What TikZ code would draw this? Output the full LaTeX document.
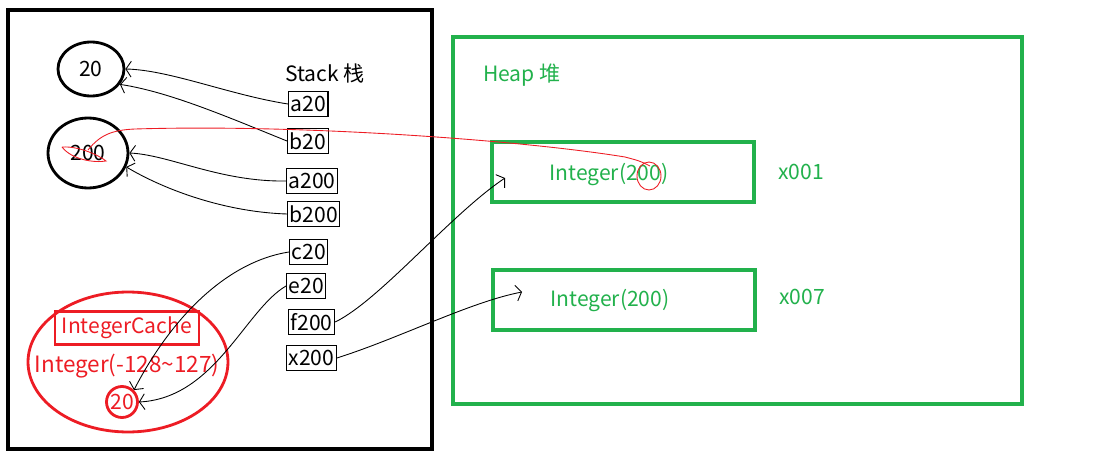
\documentclass[tikz,border=0pt]{standalone}
\usepackage{fontspec}
\setmainfont{Noto Sans CJK SC}
\usetikzlibrary{shapes.geometric, arrows.meta, positioning}

\definecolor{paintgreen}{RGB}{34,177,76}
\definecolor{paintred}{RGB}{237,28,36}

\begin{document}
\begin{tikzpicture}[x=0.02cm, y=-0.02cm, >={Straight Barb[length=3pt,width=9pt]},
    txt/.style={font=\fontsize{12}{14}\selectfont},
    slot/.style={txt, draw, line width=0.6pt, inner sep=1.2pt, minimum height=0.5cm, anchor=west},
    value/.style={txt, draw, ellipse, line width=1.6pt, inner sep=0pt},
    wire/.style={line width=0.5pt, ->},
    redpen/.style={paintred, line width=0.5pt},
    heaptxt/.style={txt, text=paintgreen},
    obj/.style={draw=paintgreen, line width=1.8pt, minimum width=5.24cm, minimum height=1.2cm}]
  \useasboundingbox (0,0) rectangle (1100,463);

  % Stack
  \draw[line width=2.3pt] (8,10) rectangle (432,449);
  \node[txt] (stacklbl) at (325,73) {Stack 栈};
  \node[value, minimum width=1.32cm, minimum height=1.08cm] (n20) at (91,69) {20};
  \node[value, minimum width=1.6cm, minimum height=1.4cm] (n200) at (88,153) {200};

  \node[slot] (a20) at (288,104) {a20};
  \node[slot] (b20) at (287,141) {b20};
  \node[slot] (a200) at (286,181) {a200};
  \node[slot] (b200) at (287,214) {b200};
  \node[slot] (c20) at (289,252) {c20};
  \node[slot] (e20) at (286,286) {e20};
  \node[slot] (f200) at (288,322) {f200};
  \node[slot] (x200) at (286,358) {x200};

  % Integer cache
  \node[draw=paintred, ellipse, line width=1.6pt, minimum width=4cm, minimum height=2.8cm] (cache) at (128,362) {};
  \node[txt, draw=paintred, text=paintred, line width=1.6pt, minimum width=2.88cm, minimum height=0.6cm] (cachelbl) at (127,328) {IntegerCache};
  \node[txt, font=\fontsize{12.8}{15}\selectfont, text=paintred] (range) at (127,366) {Integer(-128\textasciitilde127)};
  \node[txt, draw=paintred, text=paintred, circle, line width=1.6pt, inner sep=0pt, minimum size=0.62cm] (c20val) at (122,402) {20};

  % Heap
  \draw[paintgreen, line width=2.3pt] (453,37) rectangle (1022,404);
  \node[heaptxt] (heaplbl) at (522,75) {Heap 堆};
  \node[obj] (obj1) at (623,172) {};
  \node[obj] (obj2) at (624,300) {};
  \node[heaptxt] (int1) at (609,175) {Integer(200)};
  \node[heaptxt] (int2) at (610,301) {Integer(200)};
  \node[heaptxt] (addr1) at (801,172) {x001};
  \node[heaptxt] (addr2) at (802,297) {x007};

  % references
  \draw[wire] (a20.west) .. controls (230,95) and (170,70) .. (n20.east);
  \draw[wire] (b20.west) .. controls (230,118) and (170,92) .. (n20.-28);
  \draw[wire] (a200.west) .. controls (220,182) and (170,155) .. (n200.east);
  \draw[wire] (b200.west) .. controls (225,212) and (165,190) .. (n200.-20);
  \draw[wire] (c20.west) .. controls (225,262) and (170,320) .. (c20val.north east);
  \draw[wire] (e20.west) .. controls (245,310) and (215,398) .. (c20val.east);
  \draw[wire] (f200.east) .. controls (380,300) and (450,215) .. (505,178);
  \draw[wire] (x200.east) .. controls (400,338) and (470,302) .. (522,292);

  % red mark
  \draw[redpen] (62,147) .. controls (80,146) and (100,156) .. (106,161) .. controls (95,163) and (72,160) .. (62,147);
  \draw[redpen] (88,150) .. controls (100,135) and (112,130) .. (135,129)
    .. controls (300,124) and (520,140) .. (625,157) .. controls (640,161) .. (650,166);
  \draw[redpen] (int1.center) ++(40,1) ellipse [x radius=12, y radius=14];
\end{tikzpicture}
\end{document}
